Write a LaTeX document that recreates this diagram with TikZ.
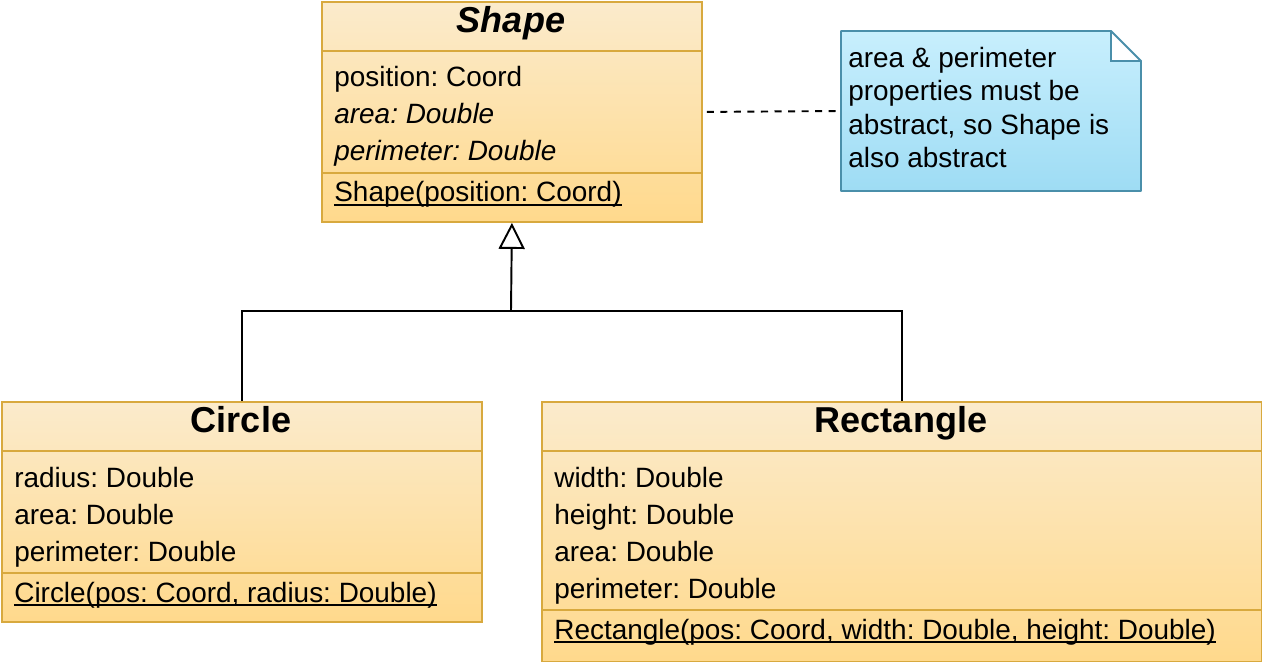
\documentclass[tikz,border=0pt]{standalone}
\usepackage{fontspec}
\setmainfont{Liberation Sans}
\usepackage{tikz}
\usetikzlibrary{positioning, arrows.meta}
\definecolor{classtop}{HTML}{FBEBCC}
\definecolor{classbot}{HTML}{FFD98C}
\definecolor{classline}{HTML}{D8A93E}
\definecolor{notetop}{HTML}{C8EFFD}
\definecolor{notebot}{HTML}{9EDCF4}
\definecolor{noteline}{HTML}{4A8FAA}
\newcommand{\ctorline}[1]{\setbox0\hbox{#1}\rlap{\rule[-2pt]{\wd0}{1pt}}\box0}
\frenchspacing

\begin{document}
\begin{tikzpicture}[x = 0.02cm, y = -0.02cm,
  umlclass/.style={rectangle, draw = classline, line width = 1.1pt, top color = classtop, bottom color = classbot, inner sep = 0pt, anchor = north west},
  classname/.style={anchor = base, inner sep = 0pt, font = \fontsize{20.5}{24}\selectfont\bfseries},
  member/.style={anchor = base west, inner sep = 0pt, font = \fontsize{15.9}{19}\selectfont},
  divider/.style={draw = classline, line width = 1.1pt},
  edge/.style={draw, line width = 1.1pt}]
  \useasboundingbox (0,0) rectangle (1262,662);

  % classes
  \node [umlclass, minimum width = 7.6cm, minimum height = 4.4cm] (shape) at (321,1) {};
  \node [umlclass, minimum width = 9.6cm, minimum height = 4.4cm] (circle) at (1,401) {};
  \node [umlclass, minimum width = 14.4cm, minimum height = 5.2cm] (rect) at (541,401) {};

  \draw [divider] (shape.west |- 0,51) -- (shape.east |- 0,51);
  \draw [divider] (shape.west |- 0,173) -- (shape.east |- 0,173);
  \draw [divider] (circle.west |- 0,451) -- (circle.east |- 0,451);
  \draw [divider] (circle.west |- 0,573) -- (circle.east |- 0,573);
  \draw [divider] (rect.west |- 0,451) -- (rect.east |- 0,451);
  \draw [divider] (rect.west |- 0,610) -- (rect.east |- 0,610);

  % class texts
  \node [classname] (shapename) at (511,33) {\itshape Shape};
  \node [member] (shapepos) at (334,87) {position: Coord};
  \node [member] (shapearea) at (334,124) {\itshape area: Double};
  \node [member] (shapeperim) at (334,161) {\itshape perimeter: Double};
  \node [member] (shapector) at (334,202) {\ctorline{Shape(position: Coord)}};

  \node [classname] (circlename) at (241,433) {Circle};
  \node [member] (circleradius) at (14,487) {radius: Double};
  \node [member] (circlearea) at (14,524) {area: Double};
  \node [member] (circleperim) at (14,561) {perimeter: Double};
  \node [member] (circlector) at (14,602) {\ctorline{Circle(pos: Coord, radius: Double)}};

  \node [classname] (rectname) at (901,433) {Rectangle};
  \node [member] (rectwidth) at (554,487) {width: Double};
  \node [member] (rectheight) at (554,524) {height: Double};
  \node [member] (rectarea) at (554,561) {area: Double};
  \node [member] (rectperim) at (554,598) {perimeter: Double};
  \node [member] (rectctor) at (554,639) {\ctorline{Rectangle(pos: Coord, width: Double, height: Double)}};

  % note
  \shade [top color = notetop, bottom color = notebot] (841,31) -- (1111,31) -- (1141,61) -- (1141,191) -- (841,191) -- cycle;
  \fill [white] (1111,31) -- (1141,61) -- (1111,61) -- cycle;
  \draw [noteline, line width = 1.1pt, line join = round] (841,31) -- (1111,31) -- (1141,61) -- (1141,191) -- (841,191) -- cycle;
  \draw [noteline, line width = 1.1pt] (1111,31) |- (1141,61);
  \node [minimum width = 6cm, minimum height = 3.2cm, inner sep = 0pt] (note) at (991,111) {};
  \node [member] (noteline1) at (848,68) {area \& perimeter};
  \node [member] (noteline2) at (848,101) {properties must be};
  \node [member] (noteline3) at (848,135) {abstract, so Shape is};
  \node [member] (noteline4) at (848,168) {also abstract};

  % edges
  \coordinate (join) at (511,311);
  \draw [edge] (circle.north) |- (join) -| (rect.north);
  \draw [edge, -{Triangle[open, length = 0.52cm, width = 0.52cm]}] (join) -- (shape.south);
  \draw [edge, dash pattern = on 4pt off 3.7pt, shorten <= 0.08cm] (shape.east) -- (note.west);
\end{tikzpicture}
\end{document}
